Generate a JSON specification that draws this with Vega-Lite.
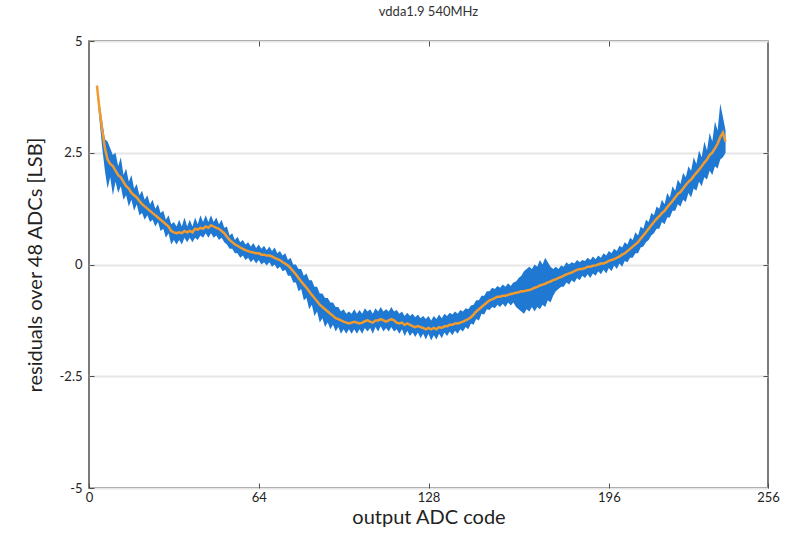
{
  "$schema": "https://vega.github.io/schema/vega-lite/v6.json",
  "autosize": {"type": "none"},
  "width": 679,
  "height": 447,
  "padding": {"left": 89, "top": 41, "right": 17, "bottom": 52},
  "background": "white",
  "config": {
    "font": "Lato",
    "view": {"stroke": "#505050", "strokeWidth": 1.5},
    "axis": {"domain": false, "labelFont": "Lato", "titleFont": "Lato", "labelColor": "#222222", "titleColor": "#222222", "tickColor": "#505050"}
  },
  "title": {"text": "vdda1.9 540MHz", "fontSize": 13, "fontWeight": "normal", "color": "#333333", "font": "Lato", "offset": 16},
  "data": {
    "values": [
      {"x":3,"m":4.0,"lo":3.9,"hi":4.05},{"x":4,"m":3.45,"lo":3.2,"hi":3.6},{"x":5,"m":3.0,"lo":2.6,"hi":3.2},{"x":6,"m":2.6,"lo":2.1,"hi":2.8},
      {"x":7,"m":2.35,"lo":1.7,"hi":2.75},{"x":8,"m":2.25,"lo":1.95,"hi":2.6},{"x":9,"m":2.2,"lo":1.55,"hi":2.45},{"x":10,"m":2.1,"lo":1.85,"hi":2.5},
      {"x":11,"m":2.0,"lo":1.6,"hi":2.2},{"x":12,"m":1.95,"lo":1.75,"hi":2.4},{"x":13,"m":1.85,"lo":1.45,"hi":2.0},{"x":14,"m":1.75,"lo":1.55,"hi":2.15},
      {"x":15,"m":1.7,"lo":1.3,"hi":1.85},{"x":16,"m":1.6,"lo":1.45,"hi":2.0},{"x":17,"m":1.55,"lo":1.2,"hi":1.7},{"x":18,"m":1.5,"lo":1.35,"hi":1.8},
      {"x":19,"m":1.42,"lo":1.1,"hi":1.55},{"x":20,"m":1.35,"lo":1.15,"hi":1.65},{"x":21,"m":1.3,"lo":1.0,"hi":1.45},{"x":22,"m":1.25,"lo":1.1,"hi":1.55},
      {"x":23,"m":1.2,"lo":0.95,"hi":1.35},{"x":24,"m":1.15,"lo":1.0,"hi":1.45},{"x":25,"m":1.1,"lo":0.85,"hi":1.25},{"x":26,"m":1.05,"lo":0.95,"hi":1.35},
      {"x":27,"m":1.0,"lo":0.75,"hi":1.15},{"x":28,"m":0.95,"lo":0.8,"hi":1.2},{"x":29,"m":0.9,"lo":0.6,"hi":1.0},{"x":30,"m":0.85,"lo":0.7,"hi":1.1},
      {"x":31,"m":0.75,"lo":0.45,"hi":0.9},{"x":32,"m":0.72,"lo":0.55,"hi":0.95},{"x":33,"m":0.7,"lo":0.45,"hi":0.85},{"x":34,"m":0.72,"lo":0.55,"hi":1.0},
      {"x":35,"m":0.7,"lo":0.45,"hi":0.85},{"x":36,"m":0.75,"lo":0.6,"hi":1.05},{"x":37,"m":0.72,"lo":0.5,"hi":0.85},{"x":38,"m":0.75,"lo":0.6,"hi":1.0},
      {"x":39,"m":0.72,"lo":0.5,"hi":0.85},{"x":40,"m":0.8,"lo":0.6,"hi":1.05},{"x":41,"m":0.78,"lo":0.55,"hi":0.9},{"x":42,"m":0.82,"lo":0.65,"hi":1.1},
      {"x":43,"m":0.8,"lo":0.6,"hi":0.95},{"x":44,"m":0.85,"lo":0.7,"hi":1.1},{"x":45,"m":0.82,"lo":0.6,"hi":0.95},{"x":46,"m":0.88,"lo":0.7,"hi":1.1},
      {"x":47,"m":0.85,"lo":0.6,"hi":0.95},{"x":48,"m":0.82,"lo":0.65,"hi":1.05},{"x":49,"m":0.8,"lo":0.55,"hi":0.9},{"x":50,"m":0.75,"lo":0.6,"hi":1.0},
      {"x":51,"m":0.7,"lo":0.5,"hi":0.82},{"x":52,"m":0.62,"lo":0.45,"hi":0.85},{"x":53,"m":0.55,"lo":0.35,"hi":0.65},{"x":54,"m":0.5,"lo":0.35,"hi":0.7},
      {"x":55,"m":0.45,"lo":0.25,"hi":0.55},{"x":56,"m":0.42,"lo":0.25,"hi":0.62},{"x":57,"m":0.38,"lo":0.15,"hi":0.5},{"x":58,"m":0.35,"lo":0.2,"hi":0.55},
      {"x":59,"m":0.32,"lo":0.1,"hi":0.45},{"x":60,"m":0.3,"lo":0.15,"hi":0.5},{"x":61,"m":0.28,"lo":0.05,"hi":0.4},{"x":62,"m":0.27,"lo":0.12,"hi":0.48},
      {"x":63,"m":0.25,"lo":0.02,"hi":0.37},{"x":64,"m":0.25,"lo":0.1,"hi":0.45},{"x":65,"m":0.22,"lo":0.0,"hi":0.35},{"x":66,"m":0.22,"lo":0.05,"hi":0.42},
      {"x":67,"m":0.2,"lo":-0.02,"hi":0.32},{"x":68,"m":0.2,"lo":0.05,"hi":0.4},{"x":69,"m":0.18,"lo":-0.05,"hi":0.3},{"x":70,"m":0.15,"lo":0.0,"hi":0.38},
      {"x":71,"m":0.12,"lo":-0.1,"hi":0.25},{"x":72,"m":0.1,"lo":-0.05,"hi":0.3},{"x":73,"m":0.05,"lo":-0.15,"hi":0.2},{"x":74,"m":0.02,"lo":-0.12,"hi":0.25},
      {"x":75,"m":-0.02,"lo":-0.25,"hi":0.1},{"x":76,"m":-0.08,"lo":-0.25,"hi":0.15},{"x":77,"m":-0.15,"lo":-0.4,"hi":0.0},{"x":78,"m":-0.22,"lo":-0.4,"hi":0.0},
      {"x":79,"m":-0.3,"lo":-0.6,"hi":-0.1},{"x":80,"m":-0.38,"lo":-0.55,"hi":-0.1},{"x":81,"m":-0.45,"lo":-0.8,"hi":-0.25},{"x":82,"m":-0.52,"lo":-0.75,"hi":-0.2},
      {"x":83,"m":-0.6,"lo":-1.0,"hi":-0.35},{"x":84,"m":-0.68,"lo":-0.9,"hi":-0.35},{"x":85,"m":-0.75,"lo":-1.15,"hi":-0.5},{"x":86,"m":-0.82,"lo":-1.05,"hi":-0.5},
      {"x":87,"m":-0.9,"lo":-1.3,"hi":-0.65},{"x":88,"m":-0.95,"lo":-1.2,"hi":-0.65},{"x":89,"m":-1.0,"lo":-1.4,"hi":-0.75},{"x":90,"m":-1.05,"lo":-1.3,"hi":-0.75},
      {"x":91,"m":-1.1,"lo":-1.45,"hi":-0.85},{"x":92,"m":-1.15,"lo":-1.35,"hi":-0.85},{"x":93,"m":-1.2,"lo":-1.5,"hi":-0.95},{"x":94,"m":-1.22,"lo":-1.4,"hi":-0.95},
      {"x":95,"m":-1.25,"lo":-1.55,"hi":-1.05},{"x":96,"m":-1.28,"lo":-1.45,"hi":-1.0},{"x":97,"m":-1.3,"lo":-1.55,"hi":-1.1},{"x":98,"m":-1.32,"lo":-1.45,"hi":-1.05},
      {"x":99,"m":-1.3,"lo":-1.55,"hi":-1.1},{"x":100,"m":-1.28,"lo":-1.45,"hi":-1.0},{"x":101,"m":-1.3,"lo":-1.55,"hi":-1.1},{"x":102,"m":-1.32,"lo":-1.45,"hi":-1.02},
      {"x":103,"m":-1.3,"lo":-1.55,"hi":-1.1},{"x":104,"m":-1.27,"lo":-1.42,"hi":-0.98},{"x":105,"m":-1.25,"lo":-1.5,"hi":-1.05},{"x":106,"m":-1.28,"lo":-1.42,"hi":-1.0},
      {"x":107,"m":-1.3,"lo":-1.55,"hi":-1.1},{"x":108,"m":-1.25,"lo":-1.4,"hi":-0.98},{"x":109,"m":-1.25,"lo":-1.5,"hi":-1.05},{"x":110,"m":-1.22,"lo":-1.38,"hi":-0.95},
      {"x":111,"m":-1.25,"lo":-1.5,"hi":-1.05},{"x":112,"m":-1.28,"lo":-1.42,"hi":-1.0},{"x":113,"m":-1.25,"lo":-1.5,"hi":-1.05},{"x":114,"m":-1.22,"lo":-1.4,"hi":-0.95},
      {"x":115,"m":-1.25,"lo":-1.5,"hi":-1.05},{"x":116,"m":-1.3,"lo":-1.45,"hi":-1.02},{"x":117,"m":-1.32,"lo":-1.55,"hi":-1.1},{"x":118,"m":-1.3,"lo":-1.45,"hi":-1.05},
      {"x":119,"m":-1.35,"lo":-1.6,"hi":-1.15},{"x":120,"m":-1.32,"lo":-1.48,"hi":-1.08},{"x":121,"m":-1.35,"lo":-1.6,"hi":-1.15},{"x":122,"m":-1.38,"lo":-1.52,"hi":-1.1},
      {"x":123,"m":-1.4,"lo":-1.62,"hi":-1.18},{"x":124,"m":-1.38,"lo":-1.52,"hi":-1.12},{"x":125,"m":-1.4,"lo":-1.65,"hi":-1.2},{"x":126,"m":-1.42,"lo":-1.55,"hi":-1.15},
      {"x":127,"m":-1.45,"lo":-1.68,"hi":-1.22},{"x":128,"m":-1.42,"lo":-1.55,"hi":-1.15},{"x":129,"m":-1.45,"lo":-1.7,"hi":-1.25},{"x":130,"m":-1.42,"lo":-1.58,"hi":-1.15},
      {"x":131,"m":-1.45,"lo":-1.68,"hi":-1.22},{"x":132,"m":-1.4,"lo":-1.55,"hi":-1.12},{"x":133,"m":-1.42,"lo":-1.65,"hi":-1.2},{"x":134,"m":-1.38,"lo":-1.52,"hi":-1.1},
      {"x":135,"m":-1.38,"lo":-1.6,"hi":-1.15},{"x":136,"m":-1.35,"lo":-1.5,"hi":-1.08},{"x":137,"m":-1.35,"lo":-1.58,"hi":-1.12},{"x":138,"m":-1.32,"lo":-1.48,"hi":-1.05},
      {"x":139,"m":-1.32,"lo":-1.55,"hi":-1.1},{"x":140,"m":-1.3,"lo":-1.45,"hi":-1.02},{"x":141,"m":-1.28,"lo":-1.5,"hi":-1.05},{"x":142,"m":-1.25,"lo":-1.4,"hi":-0.98},
      {"x":143,"m":-1.22,"lo":-1.45,"hi":-1.0},{"x":144,"m":-1.18,"lo":-1.32,"hi":-0.92},{"x":145,"m":-1.12,"lo":-1.35,"hi":-0.9},{"x":146,"m":-1.05,"lo":-1.22,"hi":-0.8},
      {"x":147,"m":-1.0,"lo":-1.25,"hi":-0.8},{"x":148,"m":-0.95,"lo":-1.1,"hi":-0.7},{"x":149,"m":-0.9,"lo":-1.12,"hi":-0.7},{"x":150,"m":-0.85,"lo":-1.0,"hi":-0.6},
      {"x":151,"m":-0.8,"lo":-1.02,"hi":-0.6},{"x":152,"m":-0.78,"lo":-0.95,"hi":-0.52},{"x":153,"m":-0.75,"lo":-0.98,"hi":-0.55},{"x":154,"m":-0.72,"lo":-0.9,"hi":-0.48},
      {"x":155,"m":-0.72,"lo":-0.95,"hi":-0.52},{"x":156,"m":-0.7,"lo":-0.88,"hi":-0.45},{"x":157,"m":-0.7,"lo":-0.95,"hi":-0.5},{"x":158,"m":-0.68,"lo":-0.85,"hi":-0.42},
      {"x":159,"m":-0.66,"lo":-0.92,"hi":-0.48},{"x":160,"m":-0.65,"lo":-0.85,"hi":-0.4},{"x":161,"m":-0.63,"lo":-0.95,"hi":-0.38},{"x":162,"m":-0.62,"lo":-1.0,"hi":-0.3},
      {"x":163,"m":-0.6,"lo":-1.05,"hi":-0.25},{"x":164,"m":-0.6,"lo":-1.1,"hi":-0.15},{"x":165,"m":-0.58,"lo":-1.0,"hi":-0.1},{"x":166,"m":-0.57,"lo":-1.05,"hi":-0.05},
      {"x":167,"m":-0.55,"lo":-0.95,"hi":-0.1},{"x":168,"m":-0.52,"lo":-1.05,"hi":0.0},{"x":169,"m":-0.5,"lo":-0.95,"hi":-0.05},{"x":170,"m":-0.47,"lo":-1.0,"hi":0.1},
      {"x":171,"m":-0.45,"lo":-0.9,"hi":0.0},{"x":172,"m":-0.43,"lo":-0.95,"hi":0.15},{"x":173,"m":-0.4,"lo":-0.8,"hi":0.05},{"x":174,"m":-0.38,"lo":-0.85,"hi":-0.05},
      {"x":175,"m":-0.35,"lo":-0.7,"hi":-0.1},{"x":176,"m":-0.33,"lo":-0.6,"hi":-0.05},{"x":177,"m":-0.3,"lo":-0.55,"hi":-0.1},{"x":178,"m":-0.28,"lo":-0.5,"hi":-0.02},
      {"x":179,"m":-0.25,"lo":-0.5,"hi":-0.05},{"x":180,"m":-0.22,"lo":-0.4,"hi":0.05},{"x":181,"m":-0.2,"lo":-0.45,"hi":0.0},{"x":182,"m":-0.18,"lo":-0.35,"hi":0.05},
      {"x":183,"m":-0.15,"lo":-0.4,"hi":0.02},{"x":184,"m":-0.12,"lo":-0.3,"hi":0.1},{"x":185,"m":-0.1,"lo":-0.35,"hi":0.05},{"x":186,"m":-0.1,"lo":-0.25,"hi":0.1},
      {"x":187,"m":-0.08,"lo":-0.3,"hi":0.08},{"x":188,"m":-0.05,"lo":-0.22,"hi":0.15},{"x":189,"m":-0.05,"lo":-0.3,"hi":0.1},{"x":190,"m":-0.03,"lo":-0.2,"hi":0.18},
      {"x":191,"m":-0.02,"lo":-0.25,"hi":0.12},{"x":192,"m":0.0,"lo":-0.15,"hi":0.2},{"x":193,"m":0.02,"lo":-0.22,"hi":0.15},{"x":194,"m":0.02,"lo":-0.12,"hi":0.25},
      {"x":195,"m":0.05,"lo":-0.2,"hi":0.2},{"x":196,"m":0.08,"lo":-0.08,"hi":0.3},{"x":197,"m":0.1,"lo":-0.15,"hi":0.25},{"x":198,"m":0.12,"lo":-0.02,"hi":0.35},
      {"x":199,"m":0.15,"lo":-0.1,"hi":0.3},{"x":200,"m":0.18,"lo":0.02,"hi":0.42},{"x":201,"m":0.22,"lo":-0.05,"hi":0.38},{"x":202,"m":0.25,"lo":0.08,"hi":0.5},
      {"x":203,"m":0.3,"lo":0.05,"hi":0.45},{"x":204,"m":0.35,"lo":0.15,"hi":0.6},{"x":205,"m":0.4,"lo":0.15,"hi":0.55},{"x":206,"m":0.45,"lo":0.25,"hi":0.72},
      {"x":207,"m":0.5,"lo":0.25,"hi":0.65},{"x":208,"m":0.58,"lo":0.38,"hi":0.85},{"x":209,"m":0.65,"lo":0.4,"hi":0.8},{"x":210,"m":0.72,"lo":0.5,"hi":1.0},
      {"x":211,"m":0.8,"lo":0.55,"hi":0.95},{"x":212,"m":0.88,"lo":0.65,"hi":1.15},{"x":213,"m":0.95,"lo":0.7,"hi":1.1},{"x":214,"m":1.02,"lo":0.8,"hi":1.3},
      {"x":215,"m":1.08,"lo":0.8,"hi":1.25},{"x":216,"m":1.15,"lo":0.95,"hi":1.45},{"x":217,"m":1.2,"lo":0.9,"hi":1.35},{"x":218,"m":1.28,"lo":1.05,"hi":1.6},
      {"x":219,"m":1.35,"lo":1.05,"hi":1.5},{"x":220,"m":1.42,"lo":1.2,"hi":1.75},{"x":221,"m":1.5,"lo":1.2,"hi":1.65},{"x":222,"m":1.58,"lo":1.35,"hi":1.9},
      {"x":223,"m":1.62,"lo":1.3,"hi":1.8},{"x":224,"m":1.7,"lo":1.45,"hi":2.05},{"x":225,"m":1.78,"lo":1.4,"hi":1.95},{"x":226,"m":1.85,"lo":1.6,"hi":2.2},
      {"x":227,"m":1.9,"lo":1.5,"hi":2.1},{"x":228,"m":1.98,"lo":1.7,"hi":2.4},{"x":229,"m":2.05,"lo":1.65,"hi":2.25},{"x":230,"m":2.12,"lo":1.85,"hi":2.55},
      {"x":231,"m":2.2,"lo":1.75,"hi":2.4},{"x":232,"m":2.28,"lo":1.95,"hi":2.75},{"x":233,"m":2.35,"lo":1.9,"hi":2.55},{"x":234,"m":2.45,"lo":2.1,"hi":2.95},
      {"x":235,"m":2.5,"lo":2.0,"hi":2.75},{"x":236,"m":2.6,"lo":2.2,"hi":3.2},{"x":237,"m":2.7,"lo":2.15,"hi":3.0},{"x":238,"m":2.85,"lo":2.35,"hi":3.6},
      {"x":239,"m":2.95,"lo":2.4,"hi":3.3},{"x":240,"m":2.75,"lo":2.5,"hi":3.0}
    ]
  },
  "resolve": {"axis": {"x": "independent", "y": "independent"}},
  "layer": [
    {
      "mark": {"type": "area", "color": "#1F78D1", "opacity": 1},
      "encoding": {
        "x": {"field": "x", "type": "quantitative", "scale": {"domain": [0, 256], "nice": false, "zero": false},
              "axis": {"values": [0, 64, 128, 196, 256], "title": "output ADC code", "titleFontSize": 20, "titleFontWeight": "normal", "labelFontSize": 13, "tickSize": -5, "labelPadding": 8, "grid": false, "titlePadding": 3, "labelFlush": false}},
        "y": {"field": "lo", "type": "quantitative", "scale": {"domain": [-5, 5], "nice": false, "zero": false},
              "axis": {"values": [-5, -2.5, 0, 2.5, 5], "labelExpr": "'' + datum.value", "title": "residuals over 48 ADCs [LSB]", "titleFontSize": 20, "titleFontWeight": "normal", "labelFontSize": 13, "tickSize": -5, "labelPadding": 12, "grid": true, "gridColor": "#e6e6e6", "gridWidth": 2, "titlePadding": 14}},
        "y2": {"field": "hi"}
      }
    },
    {
      "mark": {"type": "line", "color": "#F39A2E", "strokeWidth": 2.5},
      "encoding": {
        "x": {"field": "x", "type": "quantitative",
              "axis": {"orient": "top", "values": [64, 128, 196], "labels": false, "title": null, "tickSize": -5, "grid": false}},
        "y": {"field": "m", "type": "quantitative",
              "axis": {"orient": "right", "values": [-2.5, 0, 2.5], "labels": false, "title": null, "tickSize": -5, "grid": false}}
      }
    }
  ]
}
